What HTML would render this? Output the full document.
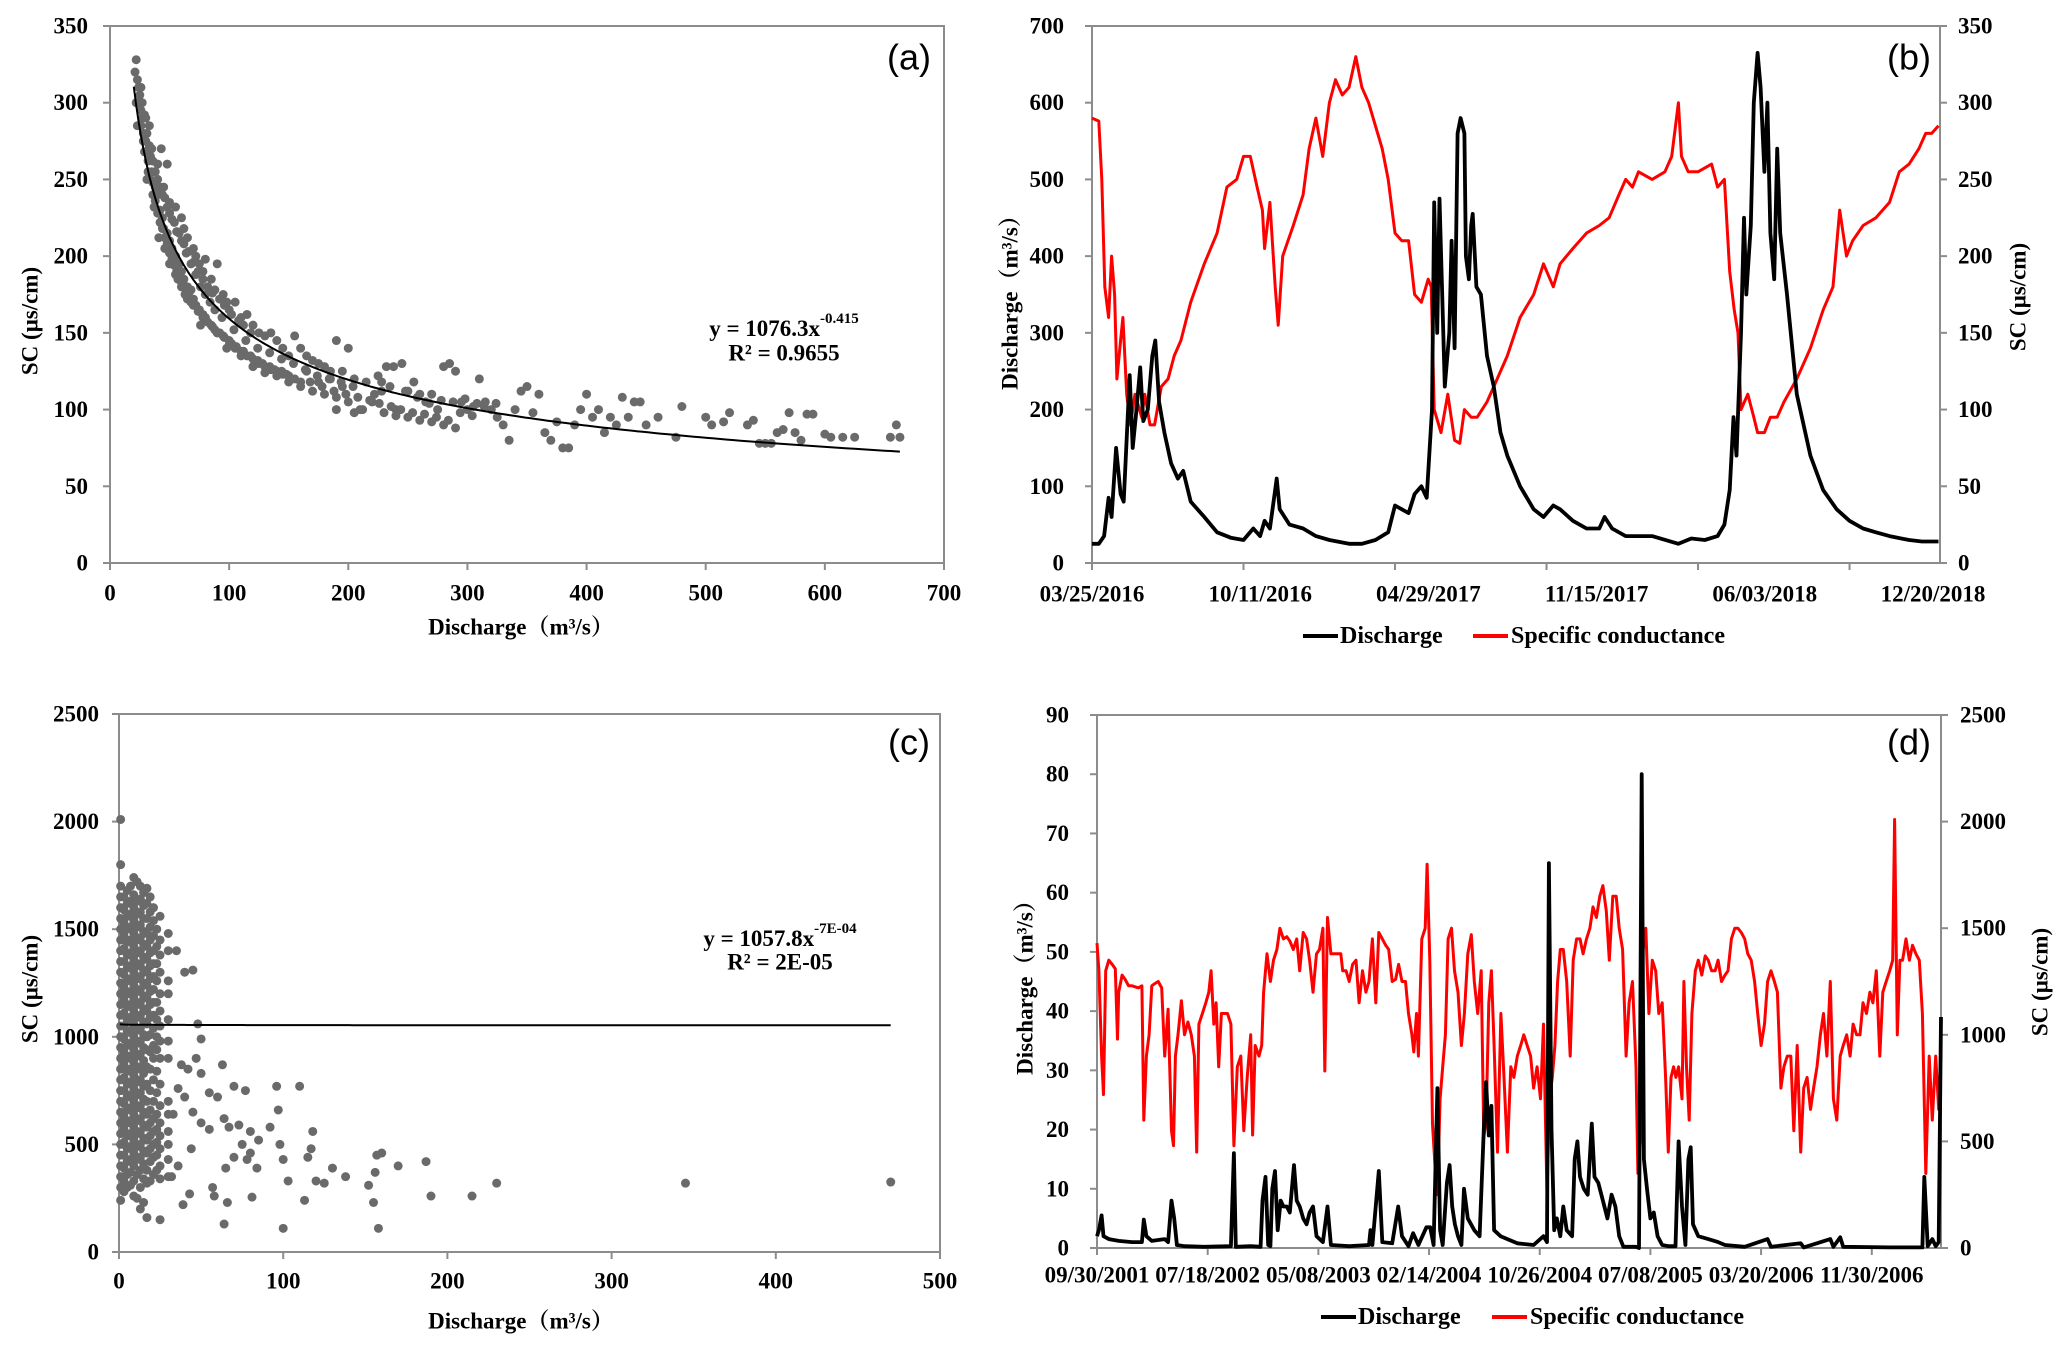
<!DOCTYPE html>
<html><head><meta charset="utf-8"><style>
html,body{margin:0;padding:0;background:#fff;}
svg{display:block;}
text{font-family:"Liberation Serif","Noto Serif CJK SC",serif;font-weight:bold;fill:#000;}
.pl{font-family:"Liberation Sans",sans-serif;font-weight:normal;font-size:36px;}
</style></head><body>
<svg id="fig" xmlns="http://www.w3.org/2000/svg" width="2067" height="1352" viewBox="0 0 2067 1352">
<g id="panelA"></g>
<g id="panelB"></g>
<g id="panelC"></g>
<g id="panelD"></g>
</svg>
<script>
// ---------- Panel (a) data ----------
const aQ1=[22,21,23,24,22,25,26,27,23,28,30,29,32,33,35,31,36,38,40,37,42,44,45,41,48,50,46,52,55,53,58,60,57,62,65,63,68,70,72,75,78,80,76,85,88,90,95,100,98,105,110,115,120,125,130,135,140,145,150,155,160,
40,45,50,55,60,62,65,70,72,75,78,80,85,88,90,95,98,100,105,110,115,120,125,130,135,140,145,150,155,160,165,170,175,180,185,190,195,200,43,48,35,30,
50,55,60,65,70,80,90,100,110,120,130,140,150,160,170,180,190,200,210,220,230,240,250,260,270,280,290,
165,175,185,195,205,215,225,235,245,250,255,265,270,280,285,290,295,300,305,310,315,320,325,330,335,340,345,350,355,360,365,370,375,380,385,390,395,400,405,410,415,420,425,430,435,440,445,450,460,475,480,500,505,515,520,535,540,545,550,555,560,565,570,575,580,585,590,600,605,615,625,655,660,663,222,228,240,260,275,238,232,212,205,190];
const aSC1=[328,320,315,310,300,305,295,290,285,280,275,268,262,285,255,250,248,245,240,232,230,225,218,212,215,210,205,205,200,195,195,190,185,185,180,175,178,172,168,165,162,160,155,155,152,150,148,145,140,140,138,135,133,130,128,126,125,123,122,120,118,
260,245,235,232,225,218,212,205,200,195,190,198,185,178,195,175,170,165,170,160,162,155,150,148,150,145,140,135,148,140,135,132,130,128,125,145,125,140,270,260,270,290,
195,188,180,172,168,160,150,142,135,128,124,122,118,115,112,110,108,105,100,105,98,96,95,93,92,90,88,
125,118,120,115,120,118,122,115,130,112,118,105,110,128,130,125,105,100,102,120,105,100,95,90,80,100,112,115,98,110,85,80,92,75,75,90,100,110,95,100,85,95,90,108,95,105,105,90,95,82,102,95,90,92,98,90,93,78,78,78,85,87,98,85,80,97,97,84,82,82,82,82,90,82,110,112,100,110,100,128,128,100,98,100];
const aQ2=[24,26,28,30,32,34,36,38,40,42,44,46,48,50,52,54,56,58,60,62,64,66,68,70,74,78,82,86,92,96,102,106,112,118,124,128,134,138,144,148,34,38,42,46,50,54,58,62,66,70,74,78,82,86,92,96,102,108,112,118,26,27,29,31,33,36,40,44,48,52,56,60,64,68,72,76,80,84,88,94,104,114,124,134,144,154,164,174,184,194,204,168,178,188,198,208,218,226,236,244,254,264,274,284,294,304,314,324,228,248,258,268,278,288,298,308];
const aSC2=[300,285,275,268,255,250,240,236,228,222,218,212,208,202,198,194,190,186,183,180,177,174,170,168,164,160,157,154,150,147,143,141,138,135,132,130,128,126,125,123,265,255,245,238,228,222,215,208,203,196,190,185,180,176,172,168,162,158,155,150,310,300,292,280,272,262,250,240,232,224,216,210,202,195,188,180,175,170,165,160,152,145,140,137,133,130,126,122,120,118,115,118,115,112,110,108,106,104,102,100,98,97,95,93,98,96,102,104,118,112,108,104,106,105,107,104];
const aQ=aQ1.concat(aQ2), aSC=aSC1.concat(aSC2);
const aFit=[1076.3,-0.415]; const aFitRange=[20,663];
const aYTicks=[0,50,100,150,200,250,300,350];
const aXTicks=[0,100,200,300,400,500,600,700];

// ---------- Panel (b) data (days since 03/25/2016) ----------
const bQDays=[0,9,16,22,26,32,38,42,50,54,59,64,68,74,80,84,89,96,105,114,121,131,149,166,184,201,214,223,229,236,245,249,262,280,297,315,341,358,376,393,402,411,420,428,437,444,451,454,458,461,468,474,477,481,485,489,494,496,500,503,505,510,516,524,533,542,551,568,586,599,612,621,638,656,673,680,690,708,743,778,795,813,830,839,846,851,855,861,865,868,874,878,883,887,892,896,900,905,909,913,922,935,953,970,988,1005,1023,1040,1058,1084,1101,1123];
const bQ=[25,25,35,85,60,150,90,80,245,150,200,255,185,200,270,290,210,170,130,110,120,80,60,40,33,30,45,35,55,45,110,70,50,45,35,30,25,25,30,40,75,70,65,90,100,85,200,470,300,475,230,300,420,280,560,580,560,400,370,440,455,360,350,270,230,170,140,100,70,60,75,70,55,45,45,60,45,35,35,25,32,30,35,50,95,190,140,300,450,350,440,600,665,620,510,600,430,370,540,430,350,220,140,95,70,55,45,40,35,30,28,28];
const bSDays=[0,9,13,17,22,26,30,33,38,41,46,51,57,66,70,77,83,92,101,109,118,131,149,166,179,192,201,210,219,226,229,236,243,247,253,267,280,288,297,306,315,323,332,341,350,358,367,376,385,393,402,411,420,428,437,446,450,454,463,472,481,488,494,503,511,524,533,551,568,586,599,612,621,638,656,673,686,699,708,717,725,743,760,769,778,782,791,804,822,830,839,846,852,857,861,870,878,883,892,900,909,918,935,953,970,983,992,1001,1009,1023,1040,1058,1071,1084,1097,1106,1114,1123];
const bSC=[290,288,250,180,160,200,175,120,145,160,110,90,110,95,110,90,90,115,120,135,145,170,195,215,245,250,265,265,245,230,205,235,180,155,200,220,240,270,290,265,300,315,305,310,330,310,300,285,270,250,215,210,210,175,170,185,180,100,85,110,80,78,100,95,95,105,115,135,160,175,195,180,195,205,215,220,225,240,250,245,255,250,255,265,300,265,255,255,260,245,250,190,165,150,100,110,95,85,85,95,95,105,120,140,165,180,230,200,210,220,225,235,255,260,270,280,280,285];
const bDays=1125;
const bLeftTicks=[0,100,200,300,400,500,600,700];
const bRightTicks=[0,50,100,150,200,250,300,350];
const bTickDays=[0,201,402,603,804,1005];
const bDateLabels=["03/25/2016","10/11/2016","04/29/2017","11/15/2017","06/03/2018","12/20/2018"];

// ---------- Panel (c) data ----------
const cQ1=[1,1,1,1,1,1,1,1,1,1,1,1,1,1,1,1,1,1,1,1,1,1,1,1,1,1,1,1,1,1,1,1,
5,5,5,5,5,5,5,5,5,5,5,5,5,5,5,5,5,5,5,5,5,5,5,5,
9,9,9,9,9,9,9,9,9,9,9,9,9,9,9,9,9,9,9,9,9,9,9,9,9,
13,13,13,13,13,13,13,13,13,13,13,13,13,13,13,13,13,13,13,13,13,13,13,13,13,
17,17,17,17,17,17,17,17,17,17,17,17,17,17,17,17,17,17,17,17,17,17,17,
21,21,21,21,21,21,21,21,21,21,21,21,21,21,21,21,21,21,21,
25,25,25,25,25,25,25,25,25,25,25,25,25,25,25,25,25,
30,30,30,30,30,30,30,30,30,30,30,30,30,
35,40,45,48,50,47,50,42,38,55,60,63,70,77,96,110,97,64,67,73,80,85,92,98,118,65,70,75,78,80,84,100,103,115,117,120,125,130,138,152,155,156,157,160,170,187,190,215,230,345,470,64,100,158,113,57,58,66,81,43,39,50,55,45,40,36,33,44,36,32];
const cSC1=[2010,1800,1700,1650,1600,1550,1500,1450,1400,1350,1300,1250,1200,1150,1100,1050,1000,950,900,850,800,750,700,650,600,550,500,450,400,350,300,240,
1680,1620,1560,1500,1440,1380,1320,1260,1200,1140,1080,1020,960,900,840,780,720,660,600,540,480,420,360,300,
1740,1660,1600,1540,1480,1420,1360,1300,1240,1180,1120,1060,1000,940,880,820,760,700,640,580,520,460,400,330,260,
1700,1640,1580,1520,1460,1400,1340,1280,1220,1160,1100,1040,980,920,860,800,740,680,620,560,500,440,380,300,200,
1690,1620,1550,1480,1420,1360,1300,1240,1180,1120,1060,1000,940,860,780,700,640,580,520,460,380,320,160,
1600,1540,1470,1400,1340,1280,1220,1160,1100,1040,960,900,800,700,620,560,500,440,360,
1560,1450,1380,1300,1200,1120,1050,980,900,780,680,600,540,480,400,340,150,
1480,1400,1260,1200,1080,980,900,700,640,560,500,430,350,
1400,1300,1310,1060,990,900,830,850,870,740,720,870,770,750,770,770,660,620,580,590,560,520,580,500,560,390,440,500,430,460,390,430,330,440,480,330,320,390,350,310,230,370,450,460,400,420,260,260,320,320,325,130,110,110,240,300,260,230,255,270,220,600,570,650,720,760,640,480,400,350];
const cQ2=[3,3,3,3,3,3,3,3,3,3,3,3,3,3,3,3,3,3,3,3,3,3,3,3,
7,7,7,7,7,7,7,7,7,7,7,7,7,7,7,7,7,7,7,7,7,7,7,7,
11,11,11,11,11,11,11,11,11,11,11,11,11,11,11,11,11,11,11,11,11,11,11,11,
15,15,15,15,15,15,15,15,15,15,15,15,15,15,15,15,15,15,15,15,15,15,15,15,
19,19,19,19,19,19,19,19,19,19,19,19,19,19,19,19,19,19,19,19,
23,23,23,23,23,23,23,23,23,23,23,23,23,23,23];
const cSC2=[1650,1590,1530,1470,1410,1350,1290,1230,1170,1110,1050,990,930,870,810,750,690,630,570,510,450,390,330,280,
1700,1630,1570,1510,1450,1390,1330,1270,1210,1150,1090,1030,970,910,850,790,730,670,610,550,490,430,370,310,
1720,1630,1570,1510,1450,1390,1330,1270,1210,1150,1090,1030,970,910,850,790,730,670,610,550,490,430,360,250,
1670,1610,1550,1490,1430,1370,1310,1250,1190,1130,1070,1010,950,890,830,770,710,650,590,530,470,410,340,230,
1650,1580,1510,1450,1390,1330,1270,1210,1150,1090,1010,930,850,750,660,600,540,480,420,330,
1500,1420,1340,1260,1160,1080,1000,940,840,740,640,570,510,450,380];
const cQ=cQ1.concat(cQ2), cSC=cSC1.concat(cSC2);
const cFit=[1057.8,-0.0007]; const cFitRange=[0.5,470];
const cYTicks=[0,500,1000,1500,2000,2500];
const cXTicks=[0,100,200,300,400,500];

// ---------- Panel (d) data (days since 09/30/2001) ----------
const dQDays=[0,5,12,17,31,57,92,118,123,130,144,178,187,196,203,210,230,282,352,360,365,404,430,435,443,450,456,461,468,475,483,490,499,507,518,525,533,542,551,559,568,577,594,606,615,663,715,719,724,741,750,776,792,802,819,831,845,866,876,885,895,902,909,920,927,934,941,949,958,965,975,992,1006,1017,1023,1030,1037,1044,1061,1079,1105,1148,1174,1183,1188,1195,1202,1209,1218,1226,1235,1249,1256,1263,1270,1280,1290,1301,1308,1318,1330,1342,1353,1363,1373,1384,1417,1425,1432,1438,1446,1455,1464,1474,1486,1503,1521,1529,1538,1547,1555,1561,1567,1581,1607,1633,1651,1703,1763,1772,1850,1858,1928,1936,1954,1962,2084,2170,2175,2184,2196,2205,2213,2219];
const dQ=[2,3,5.5,2,1.5,1.2,1,1,4.8,2,1.2,1.5,1,8,5,0.5,0.3,0.2,0.3,16,0.2,0.3,0.2,8,12,0.5,0.3,10,13,3,8,7,7,6,14,8,7,5,4,6,7,2,1,7,0.5,0.3,0.5,3,0.5,13,1,0.8,7,2,0.3,2.5,0.5,3.5,3.5,0.5,27,3,0.5,11,14,7,4,2,0.5,10,5,3,2,20,28,19,24,3,2,1.5,0.8,0.5,2,1,65,20,3,5,2,7,3,2,15,18,12,10,9,21,12,11,8,5,9,7,2,0.2,0.2,0,80,15,10,5,6,2,0.5,0.3,0.3,18,7,0.5,15,17,4,2,1.5,1,0.5,0.2,1.5,0.2,0.8,0.1,1.5,0.2,1.8,0.2,0.1,0.1,12,0.3,1.5,0.3,1,39];
const dSDays=[0,5,12,17,23,31,40,48,54,57,66,74,83,92,109,118,123,130,137,144,152,161,170,178,187,196,201,206,213,222,230,239,248,256,262,268,277,286,294,300,307,313,320,327,334,343,352,360,369,378,386,395,404,409,416,426,433,438,447,456,464,473,481,490,499,507,516,525,533,542,551,559,568,577,585,594,599,606,615,629,641,646,655,663,672,681,689,698,707,715,724,733,741,750,759,767,776,785,793,802,811,819,828,833,840,845,854,863,868,875,882,889,895,902,909,916,923,932,940,949,958,966,975,984,992,1001,1010,1017,1023,1030,1037,1044,1053,1062,1070,1079,1088,1096,1105,1114,1122,1131,1140,1148,1157,1166,1174,1183,1190,1197,1204,1211,1218,1226,1235,1244,1252,1261,1270,1278,1287,1296,1304,1313,1322,1330,1339,1347,1356,1365,1373,1382,1391,1399,1408,1417,1422,1429,1436,1443,1451,1460,1469,1477,1486,1495,1502,1509,1516,1522,1529,1538,1543,1550,1557,1564,1573,1581,1590,1599,1607,1616,1625,1633,1642,1651,1659,1668,1677,1685,1694,1703,1711,1720,1729,1737,1746,1755,1763,1772,1781,1789,1798,1806,1815,1824,1832,1841,1850,1858,1867,1876,1884,1893,1902,1910,1919,1928,1936,1945,1954,1962,1971,1980,1988,1997,2006,2014,2023,2032,2040,2049,2058,2066,2075,2084,2092,2097,2104,2111,2118,2127,2136,2144,2153,2162,2170,2179,2188,2196,2205,2213,2219];
const dSC=[1430,1300,900,720,1300,1350,1330,1310,980,1200,1280,1260,1230,1230,1220,1230,600,900,1000,1230,1240,1250,1220,900,1120,550,480,900,1000,1160,1000,1060,1000,900,450,1050,1100,1150,1200,1300,1050,1150,850,1100,1100,1100,1050,480,850,900,550,800,1000,530,950,900,950,1200,1380,1250,1350,1400,1500,1450,1460,1440,1400,1450,1300,1480,1450,1350,1200,1380,1400,1500,830,1550,1380,1380,1380,1300,1300,1250,1330,1350,1150,1300,1200,1250,1450,1150,1480,1450,1420,1400,1250,1260,1330,1250,1250,1100,1000,920,1100,900,1450,1500,1800,1350,580,380,250,700,850,1000,1450,1500,1300,1200,950,1100,1380,1470,1250,1100,1300,520,600,1150,1300,950,450,1100,800,450,850,800,900,950,1000,950,900,750,850,700,1050,250,700,800,950,1250,1400,1400,1250,900,1350,1450,1450,1380,1450,1500,1600,1550,1650,1700,1580,1350,1650,1650,1500,1400,900,1150,1250,850,350,500,1400,1500,1100,1350,1300,1100,1150,800,450,800,850,800,850,700,1250,850,600,1100,1300,1350,1280,1370,1350,1300,1300,1350,1250,1280,1300,1450,1500,1500,1480,1450,1380,1350,1250,1100,950,1050,1250,1300,1250,1200,750,850,900,900,550,950,450,750,800,650,750,850,1000,1100,900,1250,700,600,900,950,1000,900,1050,1000,1000,1150,1100,1200,1150,1300,900,1200,1250,1300,1350,2010,1000,1350,1350,1450,1350,1420,1380,1350,1100,350,900,600,900,650,950];
const dDays=2219;
const dLeftTicks=[0,10,20,30,40,50,60,70,80,90];
const dRightTicks=[0,500,1000,1500,2000,2500];
const dTickDays=[0,291,582,873,1164,1455,1746,2037];
const dDateLabels=["09/30/2001","07/18/2002","05/08/2003","02/14/2004","10/26/2004","07/08/2005","03/20/2006","11/30/2006"];

// ---------- helpers ----------
const NS="http://www.w3.org/2000/svg";
function mk(parent,tag,attrs,txt){const e=document.createElementNS(NS,tag);for(const k in attrs)e.setAttribute(k,attrs[k]);if(txt!==undefined)e.textContent=txt;parent.appendChild(e);return e;}
const AX="#8c8c8c";
function frame(g,b){
  const r=mk(g,'rect',{x:b.x0,y:b.y0,width:b.x1-b.x0,height:b.y1-b.y0,fill:'none',stroke:AX,'stroke-width':2});
  
  
}
function lbl(g,x,y,s,anchor,size,name){
  const t=mk(g,'text',{x:x,y:y,'text-anchor':anchor,'font-size':size||23,'dominant-baseline':'central'},s);
  
  
  return t;
}
function vtitle(g,x,y,s,name){
  const t=mk(g,'text',{x:0,y:0,'text-anchor':'middle','font-size':23,'dominant-baseline':'central',transform:`translate(${x},${y}) rotate(-90)`},s);
  
  
}
function yAxisLeft(g,b,ticks,max,lx,name){
  ticks.forEach(v=>{const y=b.y1-(v/max)*(b.y1-b.y0);
    const l=mk(g,'line',{x1:b.x0-7,x2:b.x0,y1:y,y2:y,stroke:AX,'stroke-width':2});
    
    
    lbl(g,lx,y,String(v),'end',23,name);});
}
function yAxisRight(g,b,ticks,max,lx,name){
  ticks.forEach(v=>{const y=b.y1-(v/max)*(b.y1-b.y0);
    const l=mk(g,'line',{x1:b.x1,x2:b.x1+7,y1:y,y2:y,stroke:AX,'stroke-width':2});
    
    
    lbl(g,lx,y,String(v),'start',23,name);});
}
function xAxisNum(g,b,ticks,max,ly){
  ticks.forEach(v=>{const x=b.x0+(v/max)*(b.x1-b.x0);
    const l=mk(g,'line',{x1:x,x2:x,y1:b.y1,y2:b.y1+7,stroke:AX,'stroke-width':2});
    
    
    lbl(g,x,ly,String(v),'middle',23,'x-tick-label');});
}
function scatter(g,b,xs,ys,xmax,ymax){
  for(let i=0;i<xs.length;i++){
    const c=mk(g,'circle',{cx:b.x0+xs[i]/xmax*(b.x1-b.x0),cy:b.y1-ys[i]/ymax*(b.y1-b.y0),r:4.5,fill:'#6a6a6a'});
    
    
  }
}
function fitLine(g,b,coef,range,xmax,ymax){
  let d='';
  for(let i=0;i<=200;i++){const q=range[0]+(range[1]-range[0])*Math.pow(i/200,2);const v=coef[0]*Math.pow(q,coef[1]);
    d+=(i?'L':'M')+(b.x0+q/xmax*(b.x1-b.x0)).toFixed(1)+','+(b.y1-v/ymax*(b.y1-b.y0)).toFixed(1);}
  const p=mk(g,'path',{d:d,fill:'none',stroke:'#000','stroke-width':2});
  
  
}
function series(g,b,days,vals,dmax,vmax,color,w,name){
  let d='';
  for(let i=0;i<days.length;i++){d+=(i?'L':'M')+(b.x0+days[i]/dmax*(b.x1-b.x0)).toFixed(1)+','+(b.y1-vals[i]/vmax*(b.y1-b.y0)).toFixed(1);}
  const p=mk(g,'path',{d:d,fill:'none',stroke:color,'stroke-width':w,'stroke-linejoin':'round'});
  
  
}
function legend(g,y,x1,x2){
  const a=mk(g,'line',{x1:x1,x2:x1+35,y1:y,y2:y,stroke:'#000','stroke-width':4});
  
  
  lbl(g,x1+37,y,'Discharge','start',24,'legend-discharge-label');
  const r=mk(g,'line',{x1:x2,x2:x2+35,y1:y,y2:y,stroke:'#ff0000','stroke-width':4});
  
  
  lbl(g,x2+38,y,'Specific conductance','start',24,'legend-sc-label');
}
function eq(g,x,y1,y2,base,exp,r2){
  const t=mk(g,'text',{x:x,y:y1,'text-anchor':'middle','font-size':23,'dominant-baseline':'central'});
  
  
  mk(t,'tspan',{},base);
  mk(t,'tspan',{dy:-9,'font-size':15},exp);
  lbl(g,x,y2,r2,'middle',23,'r-squared-label');
}

// ---------- Panel A ----------
const A={x0:110,x1:944,y0:26,y1:563};
const gA=document.getElementById('panelA');
frame(gA,A);
yAxisLeft(gA,A,aYTicks,350,88,'y-tick-label');
xAxisNum(gA,A,aXTicks,700,593);
scatter(gA,A,aQ,aSC,700,350);
fitLine(gA,A,aFit,aFitRange,700,350);
vtitle(gA,30,321,'SC (μs/cm)','y-axis-title');
lbl(gA,521,627,'Discharge（m³/s）','middle',23,'x-axis-title');
eq(gA,784,328,353,'y = 1076.3x','-0.415','R² = 0.9655');
(function(){const t=lbl(gA,909,57,'(a)','middle',36,'panel-label-a');t.setAttribute('class','pl');})();

// ---------- Panel B ----------
const B={x0:1092,x1:1940,y0:26,y1:563};
const gB=document.getElementById('panelB');
frame(gB,B);
yAxisLeft(gB,B,bLeftTicks,700,1064,'left-y-tick-label');
yAxisRight(gB,B,bRightTicks,350,1958,'right-y-tick-label');
bTickDays.forEach(dd=>{const x=B.x0+dd/bDays*(B.x1-B.x0);
  const l=mk(gB,'line',{x1:x,x2:x,y1:B.y1,y2:B.y1+7,stroke:AX,'stroke-width':2});
  
  });
bDateLabels.forEach((s,i)=>lbl(gB,B.x0+i*168.2,594,s,'middle',23,'date-label'));
series(gB,B,bSDays,bSC,bDays,350,'#ff0000',3,'sc-line');
series(gB,B,bQDays,bQ,bDays,700,'#000',3.8,'discharge-line');
vtitle(gB,1010,297,'Discharge（m³/s）','left-y-axis-title');
vtitle(gB,2018,297,'SC (μs/cm)','right-y-axis-title');
legend(gB,636,1303,1473);
(function(){const t=lbl(gB,1909,57,'(b)','middle',36,'panel-label-b');t.setAttribute('class','pl');})();

// ---------- Panel C ----------
const C={x0:119,x1:940,y0:714,y1:1252};
const gC=document.getElementById('panelC');
frame(gC,C);
yAxisLeft(gC,C,cYTicks,2500,99,'y-tick-label');
xAxisNum(gC,C,cXTicks,500,1281);
scatter(gC,C,cQ,cSC,500,2500);
fitLine(gC,C,cFit,cFitRange,500,2500);
vtitle(gC,30,989,'SC (μs/cm)','y-axis-title');
lbl(gC,521,1321,'Discharge（m³/s）','middle',23,'x-axis-title');
eq(gC,780,938,962,'y = 1057.8x','-7E-04','R² = 2E-05');
(function(){const t=lbl(gC,909,742,'(c)','middle',36,'panel-label-c');t.setAttribute('class','pl');})();

// ---------- Panel D ----------
const D={x0:1097,x1:1941,y0:715,y1:1248};
const gD=document.getElementById('panelD');
frame(gD,D);
yAxisLeft(gD,D,dLeftTicks,90,1069,'left-y-tick-label');
yAxisRight(gD,D,dRightTicks,2500,1960,'right-y-tick-label');
dTickDays.forEach((dd,i)=>{const x=D.x0+dd/dDays*(D.x1-D.x0);
  const l=mk(gD,'line',{x1:x,x2:x,y1:D.y1,y2:D.y1+7,stroke:AX,'stroke-width':2});
  
  
  lbl(gD,x,1275,dDateLabels[i],'middle',23,'date-label');});
series(gD,D,dSDays,dSC,dDays,2500,'#ff0000',3,'sc-line');
series(gD,D,dQDays,dQ,dDays,90,'#000',3.8,'discharge-line');
vtitle(gD,1025,982,'Discharge（m³/s）','left-y-axis-title');
vtitle(gD,2040,982,'SC (μs/cm)','right-y-axis-title');
legend(gD,1317,1321,1492);
(function(){const t=lbl(gD,1909,742,'(d)','middle',36,'panel-label-d');t.setAttribute('class','pl');})();
</script>
</body></html>
